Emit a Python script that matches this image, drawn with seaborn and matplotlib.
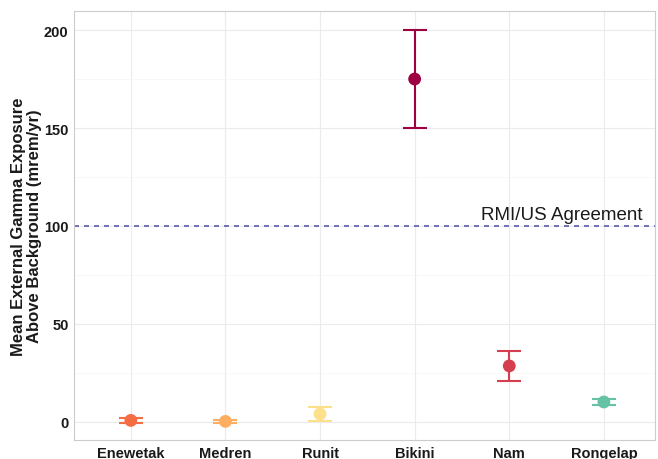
import matplotlib
matplotlib.use("Agg")
import matplotlib.pyplot as plt
import seaborn as sb
import pandas as pd

islands = ["Enewetak", "Medren", "Runit", "Bikini", "Nam", "Rongelap"]
meanExposure = [0.8, 0.3, 4.1, 175, 28.6, 10.2]
lowerBound = [-0.5, -0.3, 0.5, 150, 21, 8.7]
upperBound = [2.0, 0.9, 7.6, 200, 36.2, 11.7]
pointColors = ["#F46D43", "#FDAE61", "#FEE08B", "#9E0142", "#D53E4F", "#66C2A5"]
agreementLevel = 100

df = pd.DataFrame({"island": islands, "mean": meanExposure,
                   "lo": lowerBound, "hi": upperBound})

sb.set_style("white")
plt.rcParams['font.family'] = ['Liberation Sans', 'DejaVu Sans']

fig = plt.figure(figsize=(6.58, 4.60), dpi=100)
ax = fig.add_axes([0.1125, 0.0413, 0.8829, 0.9326])

#Error bars first so points sit on top
for i, row in df.iterrows():
    ax.errorbar(row["island"], row["mean"],
                yerr=[[row["mean"] - row["lo"]], [row["hi"] - row["mean"]]],
                fmt="none", ecolor=pointColors[i], elinewidth=1.5,
                capsize=8.5, capthick=1.5, zorder=3)

sb.scatterplot(data=df, x="island", y="mean", hue="island", palette=pointColors,
               s=85, edgecolor="none", legend=False, ax=ax, zorder=4)

ax.axhline(agreementLevel, color="#5B5BA8", linestyle=(0, (3, 3)), linewidth=1.2, zorder=2)
ax.text(4.55, agreementLevel + 3.6, "RMI/US Agreement", ha="center", va="baseline",
        fontsize=13.5, color="#1A1A1A")

ax.set_xlim(-0.6, 5.54)
ax.set_ylim(-9.2, 209.7)
ax.set_yticks([0, 50, 100, 150, 200])
ax.set_yticks([25, 75, 125, 175], minor=True)

ax.grid(True, which="major", color="#EBEBEB", linewidth=0.8)
ax.grid(True, which="minor", axis="y", color="#F5F5F5", linewidth=0.5)
ax.set_axisbelow(True)

for sp in ax.spines.values():
    sp.set_visible(True)
    sp.set_color("#CCCCCC")
    sp.set_linewidth(0.8)

ax.tick_params(axis="both", which="major", length=2.5, color="#999999",
               labelsize=10.5, pad=1.5, labelcolor="#1A1A1A")
ax.tick_params(axis="y", which="minor", length=0)
for lbl in ax.get_xticklabels() + ax.get_yticklabels():
    lbl.set_fontweight("bold")

ax.set_xlabel("")
ax.set_ylabel("Mean External Gamma Exposure\nAbove Background (mrem/yr)",
              fontsize=12, fontweight="bold", labelpad=1.5, linespacing=1.1,
              color="#1A1A1A")

plt.savefig("out.png", dpi=100)
